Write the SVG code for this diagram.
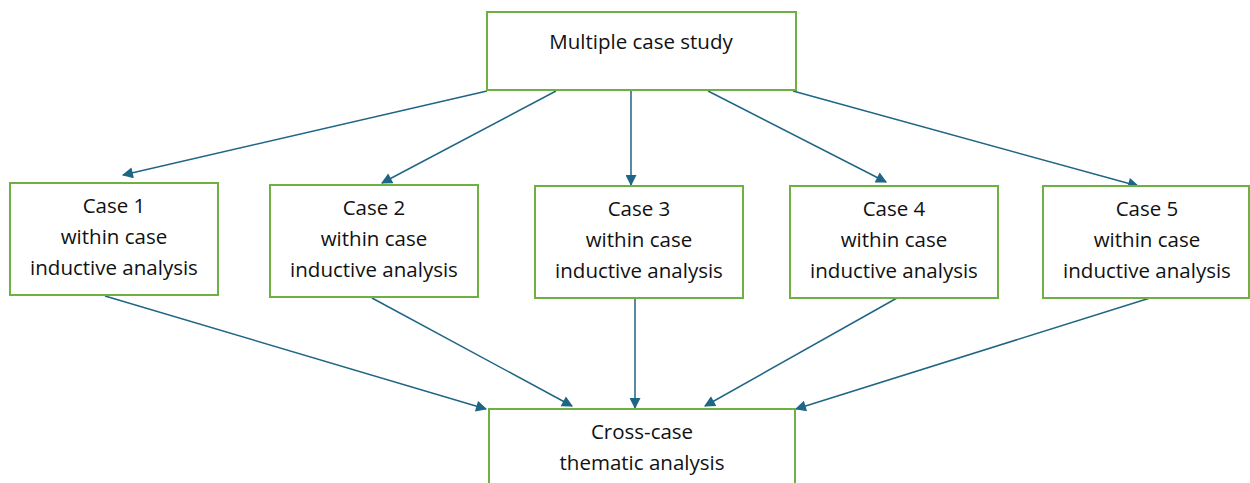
<svg xmlns="http://www.w3.org/2000/svg" width="1250" height="483" viewBox="0 0 1250 483">
<defs>
<style>
.box{fill:#fff;stroke:#6fb043;stroke-width:2}
.t{font-family:"Open Sans","Liberation Sans",sans-serif;font-size:20.5px;fill:#111;text-anchor:middle}
.c{stroke:#1f6585;stroke-width:1.5;fill:none;marker-end:url(#ah)}
</style>
<marker id="ah" viewBox="0 0 10 10" refX="9" refY="5" markerWidth="12" markerHeight="11" markerUnits="userSpaceOnUse" orient="auto"><path d="M0,0 L10,5 L0,10 z" fill="#1f6585"/></marker>
</defs>
<rect width="1250" height="483" fill="#fff"/>
<g id="connectors">
<line class="c" x1="487" y1="91" x2="123" y2="175"/>
<line class="c" x1="556" y1="91" x2="382" y2="183"/>
<line class="c" x1="631" y1="91" x2="631" y2="185"/>
<line class="c" x1="708" y1="91" x2="886" y2="182"/>
<line class="c" x1="793" y1="91" x2="1138" y2="186"/>
<line class="c" x1="105" y1="296" x2="486" y2="409"/>
<line class="c" x1="372" y1="298" x2="572" y2="406"/>
<line class="c" x1="635" y1="299" x2="635" y2="408"/>
<line class="c" x1="897" y1="298" x2="705" y2="406"/>
<line class="c" x1="1150" y1="298" x2="796" y2="409"/>
</g>
<g id="top"><rect class="box" x="487" y="12" width="309" height="78"/><text class="t" x="641" y="49">Multiple case study</text></g>
<g id="case1"><rect class="box" x="10" y="183" width="208" height="112"/><text class="t" x="114" y="213">Case 1</text><text class="t" x="114" y="244">within case</text><text class="t" x="114" y="275">inductive analysis</text></g>
<g id="case2"><rect class="box" x="270" y="185" width="208" height="112"/><text class="t" x="374" y="215">Case 2</text><text class="t" x="374" y="246">within case</text><text class="t" x="374" y="277">inductive analysis</text></g>
<g id="case3"><rect class="box" x="535" y="186" width="208" height="112"/><text class="t" x="639" y="216">Case 3</text><text class="t" x="639" y="247">within case</text><text class="t" x="639" y="278">inductive analysis</text></g>
<g id="case4"><rect class="box" x="790" y="186" width="208" height="112"/><text class="t" x="894" y="216">Case 4</text><text class="t" x="894" y="247">within case</text><text class="t" x="894" y="278">inductive analysis</text></g>
<g id="case5"><rect class="box" x="1043" y="186" width="206" height="112"/><text class="t" x="1147" y="216">Case 5</text><text class="t" x="1147" y="247">within case</text><text class="t" x="1147" y="278">inductive analysis</text></g>
<g id="cross"><rect class="box" x="489" y="409" width="306" height="80"/><text class="t" x="642" y="439">Cross-case</text><text class="t" x="642" y="470">thematic analysis</text></g>
</svg>
